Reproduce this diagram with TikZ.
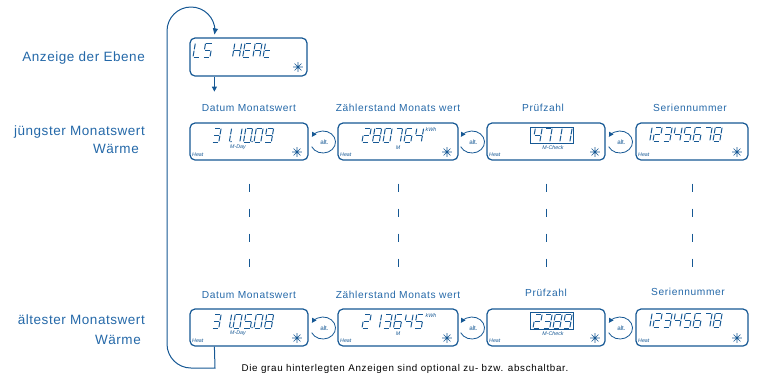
\documentclass[tikz,border=0pt]{standalone}
\usepackage{fontspec}
\setmainfont{Liberation Sans}
\newfontfamily\headfont[LetterSpace=6]{Liberation Sans}
\newfontfamily\sidefont[LetterSpace=4]{Liberation Sans}
\newfontfamily\notefont[LetterSpace=7]{Liberation Sans}
\usetikzlibrary{arrows.meta}

\definecolor{lcdblue}{RGB}{22,88,148}
\definecolor{txtblue}{RGB}{36,104,168}

\tikzset{
  display/.style={draw=lcdblue, line width=1.2pt, rounded corners=5pt, inner sep=0pt},
  lcdseg/.style={draw=lcdblue, line width=1pt, shorten <=0.7pt, shorten >=0.7pt},
  head/.style={text=txtblue, font=\headfont\fontsize{10.2}{12}\selectfont, inner sep=0pt},
  side/.style={text=txtblue, font=\sidefont\fontsize{13.5}{15}\selectfont, inner sep=0pt, anchor=east},
  tag/.style={text=lcdblue, font=\fontsize{5.3}{6}\selectfont\itshape, inner sep=0pt},
  alttext/.style={text=lcdblue, font=\fontsize{6.3}{7}\selectfont, inner sep=0pt},
  flowline/.style={draw=lcdblue, line width=1pt},
  gap/.style={draw=lcdblue, line width=1pt, dash pattern=on 8pt off 17pt},
  frame/.style={draw=lcdblue, line width=0.8pt},
}

% seven-segment pieces of one cell (6.8 x 14)
\newcommand\lcdSa{\draw[lcdseg] (0,14)--(6.8,14);}
\newcommand\lcdSb{\draw[lcdseg] (6.8,14)--(6.8,7);}
\newcommand\lcdSc{\draw[lcdseg] (6.8,7)--(6.8,0);}
\newcommand\lcdSd{\draw[lcdseg] (0,0)--(6.8,0);}
\newcommand\lcdSe{\draw[lcdseg] (0,0)--(0,7);}
\newcommand\lcdSf{\draw[lcdseg] (0,7)--(0,14);}
\newcommand\lcdSg{\draw[lcdseg] (0,7)--(6.8,7);}
\newcommand\lcdSp{\fill[lcdblue] (8.5,0.4) circle (0.75pt);}

% glyph table
\newcommand\lcddef[2]{\expandafter\def\csname lcdG#1\endcsname{#2}}
\lcddef{0}{a,b,c,d,e,f}
\lcddef{0p}{a,b,c,d,e,f,p}
\lcddef{1}{b,c}
\lcddef{1p}{b,c,p}
\lcddef{2}{a,b,g,e,d}
\lcddef{3}{a,b,g,c,d}
\lcddef{4}{f,g,b,c}
\lcddef{5}{a,f,g,c,d}
\lcddef{5p}{a,f,g,c,d,p}
\lcddef{6}{a,f,g,e,c,d}
\lcddef{7}{a,b,c}
\lcddef{8}{a,b,c,d,e,f,g}
\lcddef{9}{a,b,c,d,f,g}
\lcddef{L}{f,e,d}
\lcddef{S}{a,f,g,c,d}
\lcddef{H}{f,e,b,c,g}
\lcddef{E}{a,f,g,e,d}
\lcddef{A}{e,f,a,b,c,g}
\lcddef{t}{f,e,g,d}

% one slanted LCD glyph, bottom-left corner at (#1,#2)
\newcommand\lcdglyph[3]{%
  \begin{scope}[shift={(#1,#2)}, x=1pt, y=1pt, xslant=0.17]
    \expandafter\let\expandafter\lcdcur\csname lcdG#3\endcsname
    \foreach \s in \lcdcur {\csname lcdS\s\endcsname}
  \end{scope}}

% a row of glyphs: start x, bottom y, pitch, list
\newcommand\lcdstring[4]{%
  \foreach \c [count=\i from 0] in {#4} {\lcdglyph{#1+\i*#3}{#2}{\c}}}

% the asterisk symbol in a display corner
\newcommand\lcdstar[2]{%
  \draw[lcdblue, line width=0.6pt] (#1,#2) +(-4.8,0) -- +(4.8,0) +(0,-4.8) -- +(0,4.8)
    +(-3.4,-3.4) -- +(3.4,3.4) +(-3.4,3.4) -- +(3.4,-3.4);}

% circular "alt." key symbol
\newcommand\altkey[2]{%
  \begin{scope}[shift={(#1,#2)}, x=1pt, y=1pt]
    \draw[lcdblue, line width=0.8pt, -{Triangle[length=4.5pt,width=5pt]}]
      (205:12.5 and 11) arc[start angle=205, end angle=512, x radius=12.5, y radius=11];
    \node[alttext] at (1.5,-0.5) {alt.};
  \end{scope}}

\begin{document}
\begin{tikzpicture}[x=1pt, y=-1pt]
\useasboundingbox (0,0) rectangle (762,376);

% side captions
\node[side] (l0) at (145,58) {Anzeige der Ebene};
\node[side] (l1) at (145,132) {jüngster Monatswert};
\node[side] (l1b) at (139,149) {Wärme};
\node[side] (l2) at (145,320) {ältester Monatswert};
\node[side] (l2b) at (141,340) {Wärme};

% level display
\node[display, minimum width=117pt, minimum height=38pt] (lvl) at (248.5,57) {};
\lcdstring{193}{57}{10.2}{L,S}
\lcdstring{232.5}{57}{10.2}{H,E,A,t}
\lcdstar{298}{67}

% column headings
\node[head] (h1) at (249,108) {Datum Monatswert};
\node[head] (h2) at (398,108) {Zählerstand Monats wert};
\node[head] (h3) at (543,108) {Prüfzahl};
\node[head] (h4) at (690,108) {Seriennummer};
\node[head] (k1) at (249,295) {Datum Monatswert};
\node[head] (k2) at (398,295) {Zählerstand Monats wert};
\node[head] (k3) at (546,293) {Prüfzahl};
\node[head] (k4) at (688,292) {Seriennummer};

% youngest month row
\node[display, minimum width=118pt, minimum height=37pt] (d1) at (249,141.5) {};
\node[display, minimum width=120pt, minimum height=37pt] (z1) at (398,141.5) {};
\node[display, minimum width=118pt, minimum height=37pt] (p1) at (546,141.5) {};
\node[display, minimum width=112pt, minimum height=37pt] (s1) at (692,141.5) {};

% oldest month row
\node[display, minimum width=118pt, minimum height=37pt] (d2) at (249,327.5) {};
\node[display, minimum width=120pt, minimum height=37pt] (z2) at (398,327.5) {};
\node[display, minimum width=118pt, minimum height=37pt] (p2) at (546,327.5) {};
\node[display, minimum width=112pt, minimum height=37pt] (s2) at (692,327.5) {};

% display contents, row 1
\lcdstring{212}{142}{10.5}{3,1p,1,0p,0,9}
\node[tag] at (238,147) {M-Day};
\node[tag, anchor=west] at (192,155) {Heat};
\lcdstar{297}{152}

\lcdstring{362}{142}{10.5}{2,8,0,7,6,4}
\node[tag] at (431,130) {kWh};
\node[tag] at (398,148) {M};
\node[tag, anchor=west] at (340,155) {Heat};
\lcdstar{447}{152}

\draw[frame] (530,127) rectangle (573,143.5);
\lcdstring{533}{142}{10}{4,7,1,1}
\node[tag] at (553,148) {M-Check};
\node[tag, anchor=west] at (489,155) {Heat};
\lcdstar{595}{152}

\lcdstring{643}{141}{10}{1,2,3,4,5,6,7,8}
\node[tag, anchor=west] at (638,155) {Heat};
\lcdstar{737}{152}

% display contents, row 2
\lcdstring{212}{328}{10.5}{3,1p,0,5p,0,8}
\node[tag] at (238,333) {M-Day};
\node[tag, anchor=west] at (192,341) {Heat};
\lcdstar{297}{338}

\lcdstring{362}{328}{10.5}{2,1,3,6,4,5}
\node[tag] at (431,316) {kWh};
\node[tag] at (398,334) {M};
\node[tag, anchor=west] at (340,341) {Heat};
\lcdstar{447}{338}

\draw[frame] (530,312) rectangle (573,329.5);
\lcdstring{533}{328}{10}{2,3,8,9}
\node[tag] at (553,334) {M-Check};
\node[tag, anchor=west] at (489,341) {Heat};
\lcdstar{595}{338}

\lcdstring{643}{327}{10}{1,2,3,4,5,6,7,8}
\node[tag, anchor=west] at (638,341) {Heat};
\lcdstar{737}{338}

% alt keys between displays
\altkey{323}{142}
\altkey{472}{142}
\altkey{620}{142}
\altkey{323}{328}
\altkey{472}{328}
\altkey{620}{328}

% omitted months
\draw[gap] ([yshift=-23pt]d1.south) -- ([yshift=40pt]d2.north);
\draw[gap] ([yshift=-23pt]z1.south) -- ([yshift=40pt]z2.north);
\draw[gap] ([yshift=-23pt]p1.south) -- ([yshift=40pt]p2.north);
\draw[gap] ([yshift=-23pt]s1.south) -- ([yshift=40pt]s2.north);

% level entry arrow
\coordinate (entry) at ([xshift=25pt, yshift=-15pt]lvl.south west);
\draw[flowline, -{Triangle[length=5pt,width=5pt]}] ([xshift=25pt]lvl.south west) -- (entry);

% return loop from the last display back to the level display
\coordinate (bend) at (215,368);
\coordinate (lowleft) at (191,368);
\coordinate (upleft) at (167,31);
\draw[flowline, -{Triangle[length=6pt,width=5pt]}]
  ([xshift=25pt]d2.south west) -- (bend) -- (lowleft)
  arc[start angle=90, end angle=180, radius=24] -- (upleft)
  arc[start angle=180, end angle=360, radius=24]
  -- ([xshift=25pt, yshift=3pt]lvl.north west);

% footnote
\node[inner sep=0pt, font=\notefont\fontsize{9.8}{11}\selectfont] (note) at (405,369)
  {Die grau hinterlegten Anzeigen sind optional zu- bzw. abschaltbar.};
\end{tikzpicture}
\end{document}
